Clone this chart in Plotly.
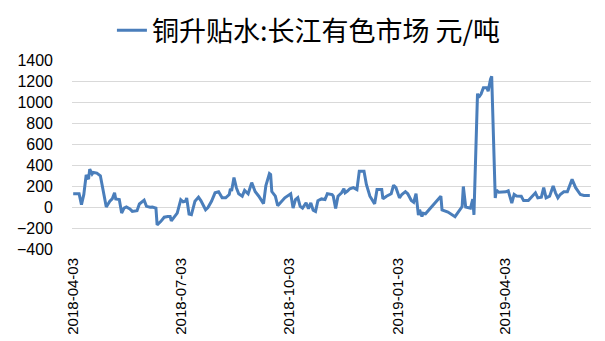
import plotly.graph_objects as go

series_name = "铜升贴水:长江有色市场 元/吨"

dates = [
    "2018-04-03", "2018-04-08", "2018-04-10", "2018-04-12", "2018-04-14", "2018-04-16", "2018-04-17",
    "2018-04-19", "2018-04-20", "2018-04-23", "2018-04-26", "2018-04-28", "2018-05-01", "2018-05-04",
    "2018-05-06", "2018-05-08", "2018-05-09", "2018-05-12", "2018-05-14", "2018-05-16", "2018-05-18",
    "2018-05-21", "2018-05-23", "2018-05-27", "2018-05-29", "2018-06-02", "2018-06-04", "2018-06-07",
    "2018-06-09", "2018-06-12", "2018-06-13", "2018-06-16", "2018-06-19", "2018-06-22", "2018-06-24",
    "2018-06-25", "2018-06-30", "2018-07-03", "2018-07-05", "2018-07-07", "2018-07-08", "2018-07-10",
    "2018-07-12", "2018-07-15", "2018-07-18", "2018-07-20", "2018-07-24", "2018-07-26", "2018-07-29",
    "2018-08-01", "2018-08-04", "2018-08-07", "2018-08-10", "2018-08-13", "2018-08-14", "2018-08-15",
    "2018-08-17", "2018-08-19", "2018-08-21", "2018-08-24", "2018-08-26", "2018-08-29", "2018-09-01",
    "2018-09-04", "2018-09-07", "2018-09-11", "2018-09-13", "2018-09-16", "2018-09-17", "2018-09-18",
    "2018-09-21", "2018-09-23", "2018-09-26", "2018-09-29", "2018-10-04", "2018-10-06", "2018-10-08",
    "2018-10-10", "2018-10-12", "2018-10-14", "2018-10-17", "2018-10-19", "2018-10-21", "2018-10-23",
    "2018-10-25", "2018-10-27", "2018-10-30", "2018-11-02", "2018-11-04", "2018-11-08", "2018-11-09",
    "2018-11-11", "2018-11-13", "2018-11-16", "2018-11-18", "2018-11-19", "2018-11-21", "2018-11-23",
    "2018-11-26", "2018-11-29", "2018-12-01", "2018-12-05", "2018-12-07", "2018-12-10", "2018-12-14",
    "2018-12-16", "2018-12-20", "2018-12-21", "2018-12-24", "2018-12-28", "2018-12-30", "2019-01-01",
    "2019-01-04", "2019-01-06", "2019-01-09", "2019-01-11", "2019-01-14", "2019-01-16", "2019-01-18",
    "2019-01-20", "2019-01-21", "2019-01-23", "2019-01-24", "2019-01-26", "2019-02-08", "2019-02-09",
    "2019-02-14", "2019-02-20", "2019-02-26", "2019-02-27", "2019-03-01", "2019-03-05", "2019-03-07",
    "2019-03-08", "2019-03-11", "2019-03-12", "2019-03-14", "2019-03-16", "2019-03-19", "2019-03-20",
    "2019-03-22", "2019-03-23", "2019-03-26", "2019-03-27", "2019-03-29", "2019-04-02", "2019-04-04",
    "2019-04-06", "2019-04-09", "2019-04-11", "2019-04-13", "2019-04-17", "2019-04-19", "2019-04-23",
    "2019-04-26", "2019-04-29", "2019-05-01", "2019-05-04", "2019-05-06", "2019-05-08", "2019-05-11",
    "2019-05-14", "2019-05-16", "2019-05-18", "2019-05-20", "2019-05-23", "2019-05-26", "2019-05-30",
    "2019-06-02", "2019-06-06", "2019-06-09", "2019-06-14",
]

values = [
    126, 126, 22, 120, 306, 265, 361,
    313, 329, 323, 297, 184, 0, 55,
    77, 135, 77, 71, -58, -10, 0,
    -19, -42, -35, 29, 65, 6, -3,
    0, -10, -171, -139, -97, -90, -90,
    -132, -58, 70, 50, 55, 85, -68,
    -74, 55, 94, 61, -26, -5, 55,
    135, 145, 87, 87, 119, 174, 152,
    281, 184, 126, 103, 158, 126, 232,
    145, 103, 32, 205, 319, 310, 147,
    103, 12, 55, 87, 126, -10, 71,
    90, 6, -10, 40, -16, 39, -30,
    -42, 60, 77, 71, 127, 119, 103,
    -13, 103, 135, 174, 135, 152, 174,
    184, 165, 340, 340, 215, 103, 30,
    166, 166, 77, 103, 126, 207, 184,
    87, 119, 146, 126, 62, 45, 127,
    -78, -26, -90, -60, -65, 103, -28,
    -48, -92, 4, 195, 0, -12, 75,
    -75, 1080, 1043, 1075, 1135, 1135, 1103,
    1217, 1245, 85, 161, 140, 140, 145,
    155, 37, 120, 105, 103, 61, 61,
    103, 135, 87, 94, 184, 87, 103,
    200, 135, 87, 119, 145, 145, 263,
    184, 119, 110, 110,
]

tick_dates = ["2018-04-03", "2018-07-03", "2018-10-03", "2019-01-03", "2019-04-03"]
y_ticks = [-400, -200, 0, 200, 400, 600, 800, 1000, 1200, 1400]

fig = go.Figure()
fig.add_trace(go.Scatter(
    x=dates, y=values, mode="lines", name=series_name,
    line=dict(color="#4A7EBB", width=3),
    showlegend=True,
))

fig.update_layout(
    width=605, height=341,
    margin=dict(l=72, r=14, t=60, b=92, autoexpand=False),
    paper_bgcolor="white", plot_bgcolor="white",
    showlegend=True,
    legend=dict(
        orientation="h", xref="container", yref="container",
        x=0.185, xanchor="left", y=0.91, yanchor="middle",
        font=dict(family="Noto Sans CJK SC", size=27, color="#000000"),
        itemwidth=30, bgcolor="rgba(0,0,0,0)",
    ),
    xaxis=dict(
        type="date",
        range=["2018-04-02", "2019-06-15"],
        tickvals=tick_dates, ticktext=tick_dates,
        tickangle=-90,
        showgrid=False, zeroline=False, showline=False,
        ticks="", ticklabelstandoff=5,
        tickfont=dict(family="Liberation Sans, Arial", size=15, color="#000000"),
    ),
    yaxis=dict(
        range=[-400, 1400], tickvals=y_ticks,
        showgrid=True, gridcolor="#D9D9D9", gridwidth=1,
        zeroline=False, showline=False, ticks="",
        ticklabelstandoff=18,
        tickfont=dict(family="Liberation Sans, Arial", size=16, color="#000000"),
    ),
)

fig.write_html("out.html")
